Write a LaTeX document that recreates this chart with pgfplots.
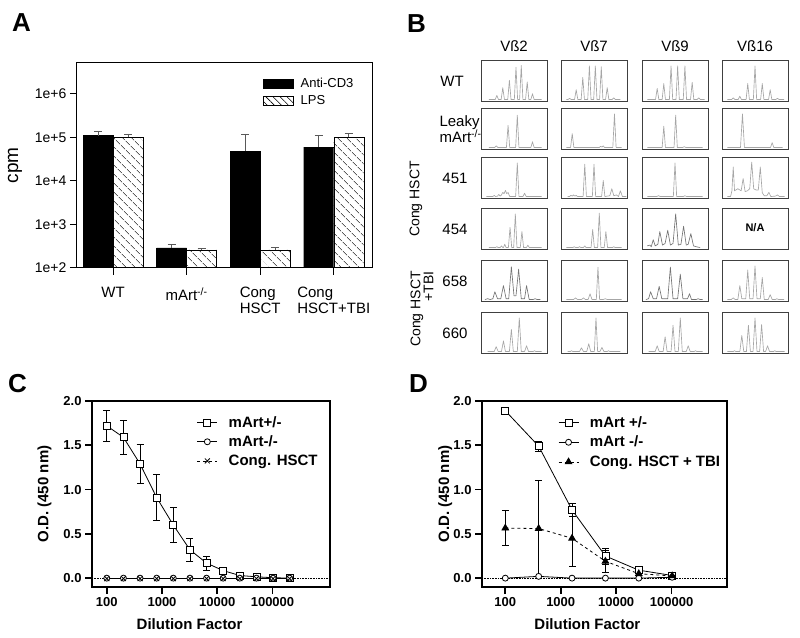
\documentclass[border=0pt]{standalone}
\usepackage{fontspec}
\setmainfont{Liberation Sans}
\usepackage{pgfplots}
\pgfplotsset{compat=1.18}
\usetikzlibrary{patterns,patterns.meta}

\pgfplotsset{
  bstyle/.style={anchor=south west, scale only axis, width=66pt, height=41pt,
    xmin=0, xmax=100, ymin=0, ymax=100, xtick=\empty, ytick=\empty,
    axis line style={line width=1pt, black!75}},
  trace/.style={black!35, line width=0.65pt, line join=round},
  dtrace/.style={black!55, line width=0.65pt, line join=round},
  odstyle/.style={anchor=south west, scale only axis, height=186pt,
    ymin=-0.1, ymax=2.0,
    xtick={100,1000,10000,100000}, xticklabels={100,1000,10000,100000},
    ytick={0,0.5,1,1.5,2}, yticklabels={0.0,0.5,1.0,1.5,2.0},
    xminorticks=false, tick pos=left, tick align=outside, major tick length=7pt,
    axis line style={line width=1.8pt}, major tick style={line width=1.8pt, black},
    ticklabel style={font=\fontsize{13}{13}\selectfont\bfseries},
    xlabel={Dilution Factor}, ylabel={O.D. (450 nm)},
    label style={font=\fontsize{15}{15}\selectfont\bfseries},
    legend cell align=left,
    legend image code/.code={\draw[mark repeat=2, mark phase=2, ##1] plot coordinates {(0pt,0pt)(10pt,0pt)(20pt,0pt)};}},
  oderr/.style={error bars/.cd, y dir=both, y explicit,
    error bar style={line width=0.7pt, black, solid},
    error mark options={rotate=90, mark size=3.5pt, line width=0.7pt, black, solid}},
}

\begin{document}
\begin{tikzpicture}[x=1pt,y=1pt]
\path[use as bounding box] (0,0) rectangle (800,637);

% panel letters
\node[anchor=base west, inner sep=0, font=\fontsize{26}{26}\selectfont\bfseries] at (12,605) {A};
\node[anchor=base west, inner sep=0, font=\fontsize{26}{26}\selectfont\bfseries] at (407,604) {B};
\node[anchor=base west, inner sep=0, font=\fontsize{26}{26}\selectfont\bfseries] at (8,244) {C};
\node[anchor=base west, inner sep=0, font=\fontsize{26}{26}\selectfont\bfseries] at (409,244) {D};

% ================= Panel A =================
\begin{axis}[
  at={(77pt,369pt)}, anchor=south west, scale only axis, width=295pt, height=205pt,
  ymode=log, ymin=100, ymax=5.1e6, log origin y=infty,
  xmin=-0.49, xmax=3.52,
  ybar=0pt, bar width=30pt,
  xtick={0,1,2,3},
  xticklabels={WT, {mArt\textsuperscript{-/-}}, {Cong\\HSCT}, {Cong\\HSCT+TBI}},
  ytick={100,1000,10000,100000,1000000},
  yticklabels={1e+2,1e+3,1e+4,1e+5,1e+6},
  yminorticks=false,
  tick pos=left, tick align=outside, major tick length=7pt,
  axis line style={line width=1pt}, major tick style={line width=1pt, black},
  yticklabel style={font=\fontsize{14}{16}\selectfont},
  xticklabel style={align=left, font=\fontsize{15}{16}\selectfont, yshift=-9pt},
  ylabel={cpm}, ylabel style={at={(axis description cs:-0.21,0.5)}, anchor=center, font=\fontsize{19}{19}\selectfont},
  legend style={draw=none, fill=none, at={(axis description cs:0.63,0.935)}, anchor=north west,
    font=\fontsize{13}{13}\selectfont, row sep=2pt, inner sep=0pt},
  legend cell align=left,
]
\addplot[fill=black, draw=black,
  legend image code/.code={\draw[fill=black,draw=black] (0pt,-4.5pt) rectangle (30pt,4.5pt);},
  error bars/.cd, y dir=plus, y explicit,
  error bar style={line width=0.6pt, black!65},
  error mark options={rotate=90, mark size=4pt, line width=0.6pt, black!65}]
  table[x=x, y=y, y error=e] {
x y e
0 110000 30000
1 290 65
2 48000 72000
3 60000 50000
};
\addplot[draw=black, pattern={Lines[angle=-45, distance=6.5pt, line width=0.7pt]},
  legend image code/.code={\draw[draw=black, pattern={Lines[angle=-45, distance=5pt, line width=0.6pt]}] (0pt,-4.5pt) rectangle (30pt,4.5pt);},
  error bars/.cd, y dir=plus, y explicit,
  error bar style={line width=0.6pt, black!65},
  error mark options={rotate=90, mark size=4pt, line width=0.6pt, black!65}]
  table[x=x, y=y, y error=e] {
x y e
0 100000 20000
1 260 20
2 260 40
3 100000 25000
};
\legend{\hspace*{5pt}Anti-CD3, \hspace*{5pt}LPS}
\end{axis}

% ================= Panel B =================
\begin{scope}[font=\fontsize{15}{15}\selectfont]
\node at (514,591) {Vß2};
\node at (594,591) {Vß7};
\node at (675,591) {Vß9};
\node at (755,591) {Vß16};
\node at (452,555.5) {WT};
\node[anchor=west, align=left, font=\fontsize{15}{16}\selectfont] at (436,507.5) {Leaky\\mArt\textsuperscript{-/-}};
\node at (455,458.5) {451};
\node at (455,407.5) {454};
\node at (455,355.5) {658};
\node at (455,303.5) {660};
\end{scope}
\node[rotate=90, font=\fontsize{14}{14}\selectfont] at (416,438) {Cong HSCT};
\node[rotate=90, align=right, font=\fontsize{14}{13}\selectfont] at (422,328) {Cong HSCT\\+TBI};

% row 1 (WT)
\begin{axis}[bstyle, at={(481pt,535pt)}]
\addplot[trace] coordinates {(12,6)(21.5,6)(24,16)(26.5,6)(30.5,6)(33,35)(35.5,6)(40.5,6)(43,53)(45.5,6)(50.5,6)(53,85)(55.5,6)(58.5,6)(61,89)(63.5,6)(67.5,6)(70,49)(72.5,6)(75.5,6)(78,20)(80.5,6)(92,6)};
\end{axis}
\begin{axis}[bstyle, at={(561pt,535pt)}]
\addplot[trace] coordinates {(8,6)(10.5,6)(13,9)(15.5,6)(20.5,6)(23,30)(25.5,6)(30.5,6)(33,60)(35.5,6)(40.5,6)(43,88)(45.5,6)(49.5,6)(52,88)(54.5,6)(58.5,6)(61,86)(63.5,6)(67.5,6)(70,35)(72.5,6)(77.5,6)(80,10)(82.5,6)(90,6)};
\end{axis}
\begin{axis}[bstyle, at={(642pt,535pt)}]
\addplot[trace] coordinates {(8,6)(20.5,6)(23,33)(25.5,6)(30.5,6)(33,45)(35.5,6)(41.5,6)(44,88)(46.5,6)(51.5,6)(54,88)(56.5,6)(62.5,6)(65,88)(67.5,6)(73.5,6)(76,48)(78.5,6)(83.5,6)(86,10)(88.5,6)(95,6)};
\end{axis}
\begin{axis}[bstyle, at={(722pt,535pt)}]
\addplot[trace] coordinates {(8,6)(14.5,6)(17,10)(19.5,6)(24.5,6)(27,14)(29.5,6)(36.5,6)(39,45)(41.5,6)(47.5,6)(50,88)(52.5,6)(58.5,6)(61,45)(63.5,6)(70.5,6)(73,30)(75.5,6)(81.5,6)(84,9)(86.5,6)(94,6)};
\end{axis}

% row 2 (Leaky)
\begin{axis}[bstyle, at={(481pt,487pt)}]
\addplot[trace] coordinates {(12,6)(20.5,6)(23,10)(25.5,6)(38.5,6)(41,60)(43.5,6)(52.5,6)(55,85)(57.5,6)(75.5,6)(78,20)(80.5,6)(92,6)};
\end{axis}
\begin{axis}[bstyle, at={(561pt,487pt)}]
\addplot[trace] coordinates {(8,6)(14.5,6)(17,40)(19.5,6)(58,6)(60,9)(62,7)(64,10)(66,6)(78.5,6)(81,88)(83.5,6)(92,6)};
\end{axis}
\begin{axis}[bstyle, at={(642pt,487pt)}]
\addplot[trace] coordinates {(8,6)(30.5,6)(33,58)(35.5,6)(48.5,6)(51,85)(53.5,6)(61.5,6)(64,8)(66.5,6)(92,6)};
\end{axis}
\begin{axis}[bstyle, at={(722pt,487pt)}]
\addplot[trace] coordinates {(8,6)(28,6)(31,88)(34,6)(73.5,6)(76,18)(78.5,6)(92,6)};
\end{axis}

% row 3 (451)
\begin{axis}[bstyle, at={(481pt,438pt)}]
\addplot[trace] coordinates {(8,6)(18,6)(20,9)(22,6)(25,7)(27,11)(29,7)(31,10)(33,16)(35,13)(37,21)(39,13)(41,16)(43.5,6)(52.5,6)(55,88)(57.5,6)(63.5,6)(66,14)(68.5,6)(92,6)};
\end{axis}
\begin{axis}[bstyle, at={(561pt,438pt)}]
\addplot[trace] coordinates {(10,6)(13,6)(15,9)(17,7)(19,10)(21,7)(23,9)(25,6)(33.5,6)(36,85)(38.5,6)(47.5,6)(50,85)(52.5,6)(61.5,6)(64,45)(66.5,6)(74,8)(77,25)(80,8)(84,10)(87,6)(90,20)(93,6)(99,6)};
\end{axis}
\begin{axis}[bstyle, at={(642pt,438pt)}]
\addplot[trace] coordinates {(8,6)(22.5,6)(25,8)(27.5,6)(47.5,6)(50,88)(52.5,6)(62.5,6)(65,8)(67.5,6)(92,6)};
\end{axis}
\begin{axis}[bstyle, at={(722pt,438pt)}]
\addplot[trace] coordinates {(8,6)(13,6)(15,20)(17,78)(19,20)(24,25)(29,20)(32,50)(35,18)(38.5,20)(42,25)(45,90)(48,25)(51.5,22)(55,22)(58,78)(61,15)(64,8)(68,8)(71,16)(74,6)(81,7)(84,10)(87,6)(95,6)};
\end{axis}

% row 4 (454)
\begin{axis}[bstyle, at={(481pt,387pt)}]
\addplot[trace] coordinates {(12,6)(22,6)(24,8)(26,6)(29,6)(31,10)(33,6)(34,6)(36,14)(38,6)(41.5,6)(44,55)(46.5,6)(49.5,6)(52,88)(54.5,6)(59.5,6)(62,45)(64.5,6)(69,6)(71,12)(73,6)(92,6)};
\end{axis}
\begin{axis}[bstyle, at={(561pt,387pt)}]
\addplot[trace] coordinates {(8,6)(18,6)(20,8)(22,6)(26,6)(28,8)(30,6)(34,6)(36,10)(38,6)(45.5,6)(48,50)(50.5,6)(55.5,6)(58,90)(60.5,6)(65.5,6)(68,45)(70.5,6)(78,6)(80,8)(82,6)(92,6)};
\end{axis}
\begin{axis}[bstyle, at={(642pt,387pt)}]
\addplot[dtrace] coordinates {(8,10)(12,12)(14,8)(17,25)(20,10)(24,14)(27,45)(31,12)(35,16)(39,48)(43,12)(47,16)(51,88)(55,12)(59,14)(63,58)(67,12)(70,14)(74,40)(78,10)(82,8)(88,6)};
\end{axis}
\begin{axis}[bstyle, at={(722pt,387pt)}]
\node[font=\fontsize{11}{11}\selectfont\bfseries] at (rel axis cs:0.5,0.55) {N/A};
\end{axis}

% row 5 (658)
\begin{axis}[bstyle, at={(481pt,335pt)}]
\addplot[dtrace] coordinates {(6,6)(10,8)(14,6)(18,8)(21,25)(25,8)(30,8)(34,40)(38,8)(42,8)(46,86)(50,15)(53,15)(57,80)(61,8)(66,8)(69,40)(73,6)(79,6)(82,8)(85,6)(90,6)};
\end{axis}
\begin{axis}[bstyle, at={(561pt,335pt)}]
\addplot[trace] coordinates {(8,6)(19,6)(22,10)(25,6)(31,6)(34,10)(37,6)(41,6)(44,20)(47,6)(53.5,6)(56,85)(58.5,6)(64,6)(67,8)(70,6)(92,6)};
\end{axis}
\begin{axis}[bstyle, at={(642pt,335pt)}]
\addplot[dtrace] coordinates {(6,6)(10,8)(13,25)(17,8)(22,8)(26,38)(30,8)(39,8)(43,85)(47,8)(54,8)(58,68)(62,8)(69,8)(72,20)(75,6)(82,6)(85,8)(88,6)(92,6)};
\end{axis}
\begin{axis}[bstyle, at={(722pt,335pt)}]
\addplot[trace] coordinates {(8,6)(14,6)(17,10)(20,6)(24,6)(27,40)(30,8)(36,8)(39,78)(42,8)(47,8)(50,88)(53,8)(58,8)(61,60)(64,6)(70,6)(73,18)(76,6)(81,6)(83,8)(86,6)(94,6)};
\end{axis}

% row 6 (660)
\begin{axis}[bstyle, at={(481pt,283pt)}]
\addplot[trace] coordinates {(10,6)(20,6)(23,18)(26,6)(31,6)(34,32)(37,6)(43,6)(46,60)(49,6)(55,6)(58,88)(61,6)(66,6)(69,20)(72,6)(79,6)(81,8)(83,6)(92,6)};
\end{axis}
\begin{axis}[bstyle, at={(561pt,283pt)}]
\addplot[trace] coordinates {(10,6)(14,6)(16,8)(18,6)(28,6)(31,15)(34,6)(39,6)(42,25)(45,6)(50.5,6)(53,88)(55.5,6)(59,6)(62,16)(65,6)(70,6)(72,8)(74,6)(90,6)};
\end{axis}
\begin{axis}[bstyle, at={(642pt,283pt)}]
\addplot[trace] coordinates {(10,6)(20,6)(23,20)(26,6)(32,6)(35,42)(38,6)(44,6)(47,70)(50,6)(55,6)(58,88)(61,6)(67,6)(70,20)(73,6)(79,6)(81,8)(83,6)(92,6)};
\end{axis}
\begin{axis}[bstyle, at={(722pt,283pt)}]
\addplot[trace] coordinates {(8,6)(17,6)(19,8)(21,6)(27,6)(30,45)(33,6)(37,6)(40,70)(43,6)(47,6)(50,88)(53,6)(57,6)(60,72)(63,6)(66,6)(69,20)(72,6)(78,6)(80,8)(82,6)(95,6)};
\end{axis}

% ================= Panel C =================
\begin{axis}[xmode=log, odstyle, at={(92pt,50pt)}, width=238pt, xmin=54, xmax=1.1e6,
  xlabel style={at={(axis description cs:0.41,-0.2)}, anchor=center},
  ylabel style={at={(axis description cs:-0.2,0.5)}, anchor=center},
  legend style={draw=none, fill=none, at={(axis description cs:0.44,0.93)}, anchor=north west,
    font=\fontsize{15}{15}\selectfont\bfseries, row sep=3pt, inner sep=0pt},
]
\addplot[black, densely dotted, line width=0.6pt, forget plot] coordinates {(54,0) (1.1e6,0)};
\addplot[black, line width=0.8pt, mark=square*, mark size=3.5pt, mark options={fill=white, solid}, oderr]
  table[x=x, y=y, y error=e] {
x y e
100 1.72 0.17
200 1.59 0.19
400 1.29 0.22
800 0.91 0.26
1600 0.60 0.20
3200 0.32 0.13
6400 0.17 0.08
12800 0.085 0.02
25600 0.03 0.01
51200 0.015 0.005
102400 0.005 0.005
204800 0.0 0.0
};
\addplot[black, line width=0.8pt, mark=*, mark size=3pt, mark options={fill=white, solid}]
  table[x=x, y=y] {
x y
100 0
200 0
400 0
800 0
1600 0
3200 0
6400 0
12800 0
25600 0
51200 0
102400 0
204800 0
};
\addplot[black, line width=0.8pt, dashed, mark=x, mark size=3.5pt, mark options={solid}]
  table[x=x, y=y] {
x y
100 -0.005
200 -0.005
400 -0.005
800 -0.005
1600 -0.005
3200 -0.005
6400 -0.005
12800 -0.005
25600 -0.005
51200 -0.005
102400 -0.005
204800 -0.005
};
\legend{\hspace*{9pt}mArt+/-, \hspace*{9pt}mArt-/-, \hspace*{9pt}Cong. HSCT}
\end{axis}

% ================= Panel D =================
\begin{axis}[xmode=log, odstyle, at={(482pt,50pt)}, width=245pt, xmin=38, xmax=1e6,
  xlabel style={at={(axis description cs:0.43,-0.2)}, anchor=center},
  ylabel style={at={(axis description cs:-0.15,0.5)}, anchor=center},
  legend style={draw=none, fill=none, at={(axis description cs:0.31,0.93)}, anchor=north west,
    font=\fontsize{15}{15}\selectfont\bfseries, row sep=3.5pt, inner sep=0pt},
]
\addplot[black, densely dotted, line width=0.6pt, forget plot] coordinates {(38,0) (1e6,0)};
\addplot[black, line width=0.8pt, mark=square*, mark size=3.5pt, mark options={fill=white, solid}, oderr]
  table[x=x, y=y, y error=e] {
x y e
100 1.89 0.01
400 1.49 0.06
1600 0.77 0.075
6400 0.25 0.09
25600 0.09 0.02
102400 0.03 0.01
};
\addplot[black, line width=0.8pt, mark=*, mark size=3pt, mark options={fill=white, solid}]
  table[x=x, y=y] {
x y
100 0
400 0.02
1600 0
6400 0
25600 0
102400 0.01
};
\addplot[black, line width=0.8pt, dashed, mark=triangle*, mark size=3.8pt, mark options={fill=black, solid}, oderr]
  table[x=x, y=y, y error=e] {
x y e
100 0.565 0.2
400 0.56 0.545
1600 0.45 0.32
6400 0.19 0.125
25600 0.05 0.02
102400 0.025 0.01
};
\legend{\hspace*{9pt}mArt +/-, \hspace*{9pt}mArt -/-, \hspace*{9pt}Cong. HSCT + TBI}
\end{axis}

\end{tikzpicture}
\end{document}
